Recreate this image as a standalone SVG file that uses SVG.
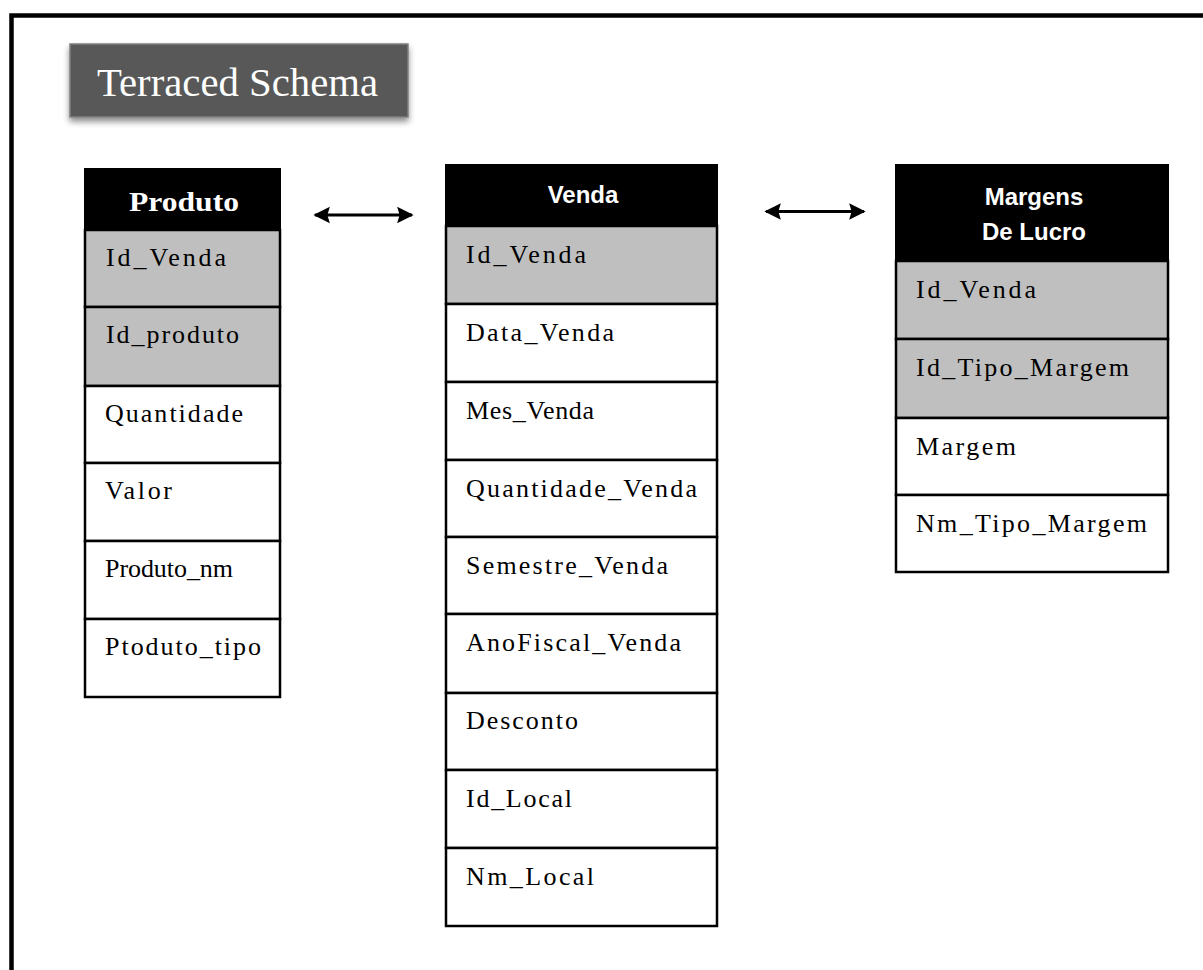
<svg xmlns="http://www.w3.org/2000/svg" width="1203" height="970" viewBox="0 0 1203 970">
<style>
.frame{fill:none;stroke:#000;stroke-width:4.5}
.hdr{fill:#000;stroke:#000;stroke-width:2}
.key{fill:#bfbfbf;stroke:#000;stroke-width:2.5}
.row{fill:#fff;stroke:#000;stroke-width:2.5}
.cell{font-family:"Liberation Serif","Times New Roman",serif;font-size:26px;fill:#000}
.hs{font-family:"Liberation Serif","Times New Roman",serif;font-size:28px;font-weight:bold;fill:#fff}
.hc{font-family:"Liberation Sans",Arial,sans-serif;font-size:24px;font-weight:bold;fill:#fff}
.conn{stroke:#000;stroke-width:3;fill:none}
</style>
<defs>
<marker id="ah" viewBox="0 0 10 10" refX="9" refY="5" markerWidth="5.5" markerHeight="6" orient="auto-start-reverse" markerUnits="strokeWidth">
<path d="M0,0 L10,5 L0,10 L1.5,5 Z" fill="#000"/>
</marker>
<filter id="sh" x="-10%" y="-20%" width="120%" height="150%">
<feGaussianBlur in="SourceAlpha" stdDeviation="3"/>
<feOffset dx="0" dy="4" result="b"/>
<feComponentTransfer><feFuncA type="linear" slope="0.45"/></feComponentTransfer>
<feMerge><feMergeNode/><feMergeNode in="SourceGraphic"/></feMerge>
</filter>
</defs>
<rect width="1203" height="970" fill="#fff"/>
<path class="frame" d="M11.5,970 V15.5 H1203"/>

<g id="title">
<rect x="70" y="44" width="338" height="73" fill="#595959" stroke="#7f7f7f" stroke-width="1.5" filter="url(#sh)"/>
<text x="97" y="96" font-family="'Liberation Serif','Times New Roman',serif" font-size="40" fill="#fff" textLength="281" lengthAdjust="spacingAndGlyphs">Terraced Schema</text>
</g>

<g id="produto">
<rect class="hdr" x="85" y="169" width="195" height="61"/>
<text class="hs" x="184" y="211" text-anchor="middle" textLength="110" lengthAdjust="spacingAndGlyphs">Produto</text>
<rect class="key" x="85" y="230" width="195" height="77"/>
<rect class="key" x="85" y="307" width="195" height="79"/>
<rect class="row" x="85" y="386" width="195" height="77"/>
<rect class="row" x="85" y="463" width="195" height="78"/>
<rect class="row" x="85" y="541" width="195" height="78"/>
<rect class="row" x="85" y="619" width="195" height="78"/>
<text class="cell" x="106" y="266" textLength="120">Id_Venda</text>
<text class="cell" x="106" y="343" textLength="133">Id_produto</text>
<text class="cell" x="105" y="422" textLength="138">Quantidade</text>
<text class="cell" x="105" y="499" textLength="67">Valor</text>
<text class="cell" x="105" y="577" textLength="128">Produto_nm</text>
<text class="cell" x="105" y="655" textLength="156">Ptoduto_tipo</text>
</g>

<g id="venda">
<rect class="hdr" x="446" y="165" width="271" height="61"/>
<text class="hc" x="583" y="203" text-anchor="middle">Venda</text>
<rect class="key" x="446" y="226" width="271" height="78"/>
<rect class="row" x="446" y="304" width="271" height="78"/>
<rect class="row" x="446" y="382" width="271" height="78"/>
<rect class="row" x="446" y="460" width="271" height="77"/>
<rect class="row" x="446" y="537" width="271" height="77"/>
<rect class="row" x="446" y="614" width="271" height="79"/>
<rect class="row" x="446" y="693" width="271" height="77"/>
<rect class="row" x="446" y="770" width="271" height="78"/>
<rect class="row" x="446" y="848" width="271" height="78"/>
<text class="cell" x="466" y="263" textLength="120">Id_Venda</text>
<text class="cell" x="466" y="341" textLength="148">Data_Venda</text>
<text class="cell" x="466" y="419" textLength="128">Mes_Venda</text>
<text class="cell" x="466" y="497" textLength="231">Quantidade_Venda</text>
<text class="cell" x="466" y="574" textLength="202">Semestre_Venda</text>
<text class="cell" x="466" y="651" textLength="215">AnoFiscal_Venda</text>
<text class="cell" x="466" y="729" textLength="112">Desconto</text>
<text class="cell" x="466" y="807" textLength="106">Id_Local</text>
<text class="cell" x="466" y="885" textLength="128">Nm_Local</text>
</g>

<g id="margens">
<rect class="hdr" x="896" y="165" width="272" height="96"/>
<text class="hc" x="1034" y="205" text-anchor="middle">Margens</text>
<text class="hc" x="1034" y="240" text-anchor="middle">De Lucro</text>
<rect class="key" x="896" y="261" width="272" height="78"/>
<rect class="key" x="896" y="339" width="272" height="79"/>
<rect class="row" x="896" y="418" width="272" height="77"/>
<rect class="row" x="896" y="495" width="272" height="77"/>
<text class="cell" x="916" y="298" textLength="120">Id_Venda</text>
<text class="cell" x="916" y="376" textLength="213">Id_Tipo_Margem</text>
<text class="cell" x="916" y="455" textLength="100">Margem</text>
<text class="cell" x="916" y="532" textLength="231">Nm_Tipo_Margem</text>
</g>

<g id="connectors">
<line class="conn" x1="315" y1="215" x2="412" y2="215" marker-start="url(#ah)" marker-end="url(#ah)"/>
<line class="conn" x1="766" y1="211.5" x2="864" y2="211.5" marker-start="url(#ah)" marker-end="url(#ah)"/>
</g>
</svg>
